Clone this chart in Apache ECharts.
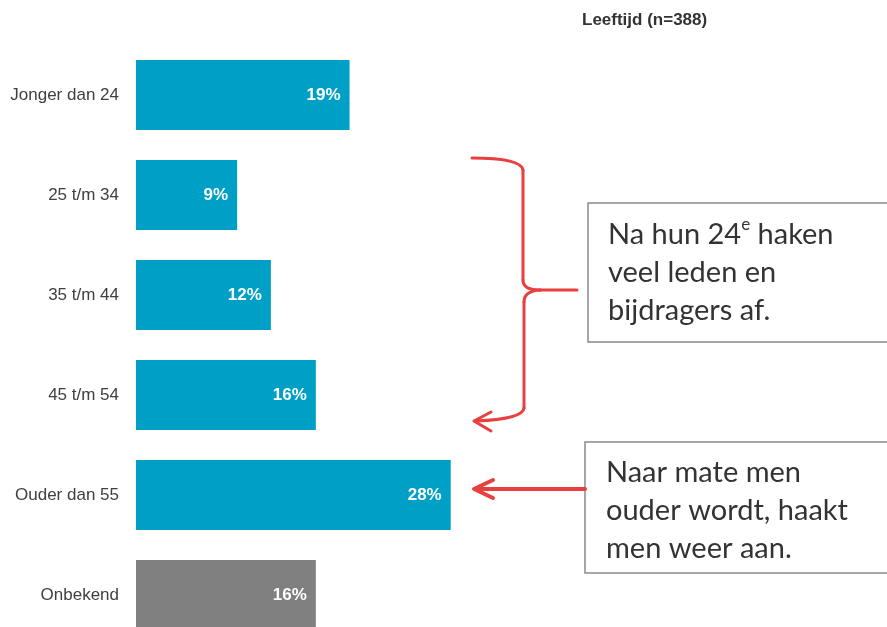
<!DOCTYPE html>
<html>
<head>
<meta charset="utf-8">
<script src="https://cdn.jsdelivr.net/npm/echarts@6/dist/echarts.min.js"></script>
<style>
  html, body { margin: 0; padding: 0; background: #fff; }
  #chart { width: 887px; height: 627px; }
</style>
</head>
<body>
<div id="chart"></div>
<script>
const categories = ["Jonger dan 24", "25 t/m 34", "35 t/m 44", "45 t/m 54", "Ouder dan 55", "Onbekend"];
const values = [19, 9, 12, 16, 28, 16];
const barColors = ["#00A0C6", "#00A0C6", "#00A0C6", "#00A0C6", "#00A0C6", "#808080"];

const red = "#E8403F";
const calloutFont = "Lato, 'Open Sans', sans-serif";

const chart = echarts.init(document.getElementById("chart"));

// red stroke helpers
const redLine = (x1, y1, x2, y2, w) => ({
  type: "line",
  shape: { x1, y1, x2, y2 },
  style: { stroke: red, lineWidth: w || 3, lineCap: "round" },
});
const redCurve = (x1, y1, cx, cy, x2, y2) => ({
  type: "bezierCurve",
  shape: { x1, y1, cpx1: cx, cpy1: cy, x2, y2 },
  style: { fill: null, stroke: red, lineWidth: 3, lineCap: "round" },
});

const option = {
  animation: false,
  title: {
    text: "Leeftijd (n=388)",
    left: 577,
    top: 7,
    textStyle: {
      fontFamily: "'Liberation Sans', Arial, sans-serif",
      fontSize: 17,
      fontWeight: "bold",
      color: "#333",
    },
  },
  grid: {
    left: 136,
    top: 45,
    height: 600,
    width: 449.6,
    outerBoundsMode: "none",
    containLabel: false,
  },
  xAxis: {
    type: "value",
    min: 0,
    max: 40,
    show: false,
  },
  yAxis: {
    type: "category",
    inverse: true,
    data: categories,
    axisLine: { show: false },
    axisTick: { show: false },
    axisLabel: {
      margin: 17,
      fontFamily: "'Liberation Sans', Arial, sans-serif",
      fontSize: 17,
      color: "#404040",
    },
  },
  series: [
    {
      type: "bar",
      barWidth: 70,
      data: values.map((v, i) => ({ value: v, itemStyle: { color: barColors[i] } })),
      label: {
        show: true,
        position: "insideRight",
        distance: 9,
        formatter: "{c}%",
        fontFamily: "'Liberation Sans', Arial, sans-serif",
        fontSize: 17,
        fontWeight: "bold",
        color: "#fff",
      },
    },
  ],
  graphic: [
    // callout 1
    {
      type: "rect",
      shape: { x: 588, y: 203, width: 310, height: 139 },
      style: { fill: "#fff", stroke: "#8a8a8a", lineWidth: 1.5 },
    },
    {
      type: "text",
      x: 608,
      y: 216,
      style: {
        text: "Na hun 24{sup|e} haken\nveel leden en\nbijdragers af.",
        font: "29px " + calloutFont,
        fill: "#333",
        lineHeight: 38,
        rich: {
          sup: { fontSize: 17, fontFamily: calloutFont, fill: "#333", verticalAlign: "top", lineHeight: 26 },
        },
      },
    },
    // callout 2
    {
      type: "rect",
      shape: { x: 585, y: 442, width: 310, height: 131 },
      style: { fill: "#fff", stroke: "#8a8a8a", lineWidth: 1.5 },
    },
    {
      type: "text",
      x: 606,
      y: 454,
      style: {
        text: "Naar mate men\nouder wordt, haakt\nmen weer aan.",
        font: "29px " + calloutFont,
        fill: "#333",
        lineHeight: 38,
      },
    },
    // curly bracket
    redCurve(472, 158, 521, 158, 523, 170),
    redLine(523, 170, 523, 280),
    redCurve(523, 280, 523, 290, 540, 290),
    redLine(540, 290, 577, 290),
    redCurve(540, 290, 524, 291, 524, 302),
    redLine(524, 302, 524, 408),
    redCurve(524, 408, 523, 419, 476, 421),
    {
      type: "polyline",
      shape: { points: [[491, 412], [474, 421], [491, 431]] },
      style: { fill: null, stroke: red, lineWidth: 3, lineCap: "round", lineJoin: "round" },
    },
    // arrow to "Ouder dan 55"
    redLine(585, 489, 476, 489, 4),
    {
      type: "polyline",
      shape: { points: [[493, 480], [474, 489], [493, 498]] },
      style: { fill: null, stroke: red, lineWidth: 4, lineCap: "round", lineJoin: "round" },
    },
  ],
};

chart.setOption(option);
</script>
</body>
</html>
